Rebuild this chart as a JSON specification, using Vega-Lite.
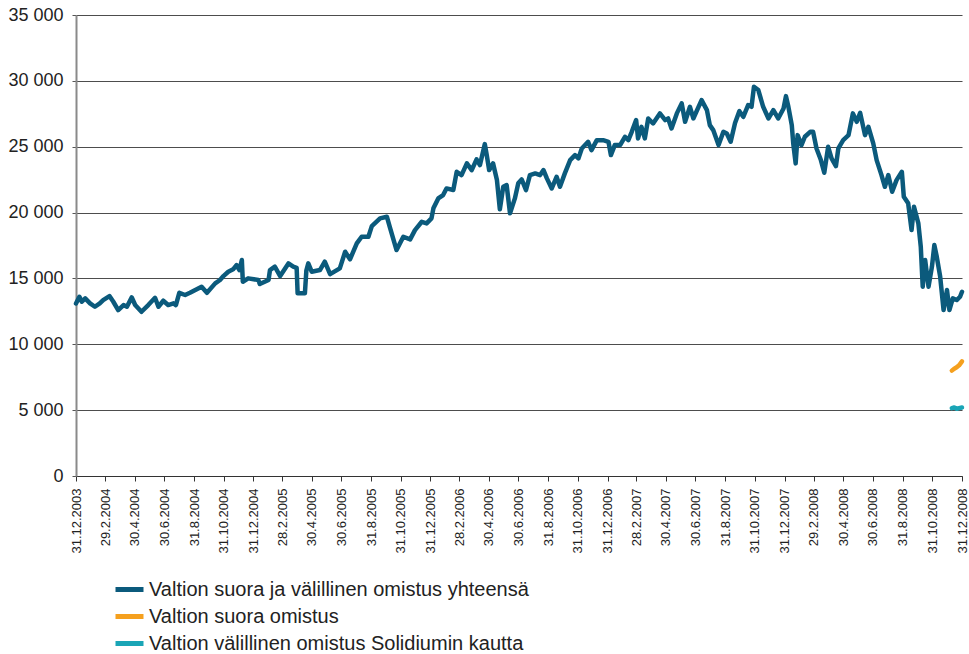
{
  "$schema": "https://vega.github.io/schema/vega-lite/v6.json",
  "width": 886,
  "height": 461,
  "autosize": {"type": "none"},
  "padding": {"left": 76, "top": 15, "right": 7, "bottom": 178},
  "background": "white",
  "config": {
    "view": {"stroke": null},
    "font": "Liberation Sans"
  },
  "encoding": {
    "x": {
      "field": "date",
      "type": "temporal",
      "scale": {"type": "utc", "domain": [{"year": 2003, "month": 12, "date": 31, "utc": true}, {"year": 2008, "month": 12, "date": 31, "utc": true}]},
      "axis": {
        "title": null,
        "format": "%-d.%-m.%Y",
        "labelAngle": -90,
        "labelFontSize": 13,
        "labelColor": "#222222",
        "labelPadding": 7,
        "tickSize": 5,
        "tickColor": "#333333",
        "domainColor": "#333333",
        "domainWidth": 1.2,
        "grid": false,
        "labelOverlap": false,
        "labelBound": false,
        "labelFlush": false,
        "values": [
          {"year": 2003, "month": 12, "date": 31, "utc": true},
          {"year": 2004, "month": 2, "date": 29, "utc": true},
          {"year": 2004, "month": 4, "date": 30, "utc": true},
          {"year": 2004, "month": 6, "date": 30, "utc": true},
          {"year": 2004, "month": 8, "date": 31, "utc": true},
          {"year": 2004, "month": 10, "date": 31, "utc": true},
          {"year": 2004, "month": 12, "date": 31, "utc": true},
          {"year": 2005, "month": 2, "date": 28, "utc": true},
          {"year": 2005, "month": 4, "date": 30, "utc": true},
          {"year": 2005, "month": 6, "date": 30, "utc": true},
          {"year": 2005, "month": 8, "date": 31, "utc": true},
          {"year": 2005, "month": 10, "date": 31, "utc": true},
          {"year": 2005, "month": 12, "date": 31, "utc": true},
          {"year": 2006, "month": 2, "date": 28, "utc": true},
          {"year": 2006, "month": 4, "date": 30, "utc": true},
          {"year": 2006, "month": 6, "date": 30, "utc": true},
          {"year": 2006, "month": 8, "date": 31, "utc": true},
          {"year": 2006, "month": 10, "date": 31, "utc": true},
          {"year": 2006, "month": 12, "date": 31, "utc": true},
          {"year": 2007, "month": 2, "date": 28, "utc": true},
          {"year": 2007, "month": 4, "date": 30, "utc": true},
          {"year": 2007, "month": 6, "date": 30, "utc": true},
          {"year": 2007, "month": 8, "date": 31, "utc": true},
          {"year": 2007, "month": 10, "date": 31, "utc": true},
          {"year": 2007, "month": 12, "date": 31, "utc": true},
          {"year": 2008, "month": 2, "date": 29, "utc": true},
          {"year": 2008, "month": 4, "date": 30, "utc": true},
          {"year": 2008, "month": 6, "date": 30, "utc": true},
          {"year": 2008, "month": 8, "date": 31, "utc": true},
          {"year": 2008, "month": 10, "date": 31, "utc": true},
          {"year": 2008, "month": 12, "date": 31, "utc": true}
        ]
      }
    },
    "y": {
      "field": "value",
      "type": "quantitative",
      "scale": {"domain": [0, 35000], "nice": false},
      "axis": {
        "title": null,
        "values": [0, 5000, 10000, 15000, 20000, 25000, 30000, 35000],
        "labelExpr": "replace(format(datum.value, ','), ',', ' ')",
        "labelFontSize": 18,
        "labelColor": "#222222",
        "labelPadding": 9,
        "tickSize": 4,
        "tickColor": "#555555",
        "domainColor": "#8a8a8a",
        "domainWidth": 2,
        "grid": true,
        "gridColor": "#4d4d4d",
        "gridWidth": 1.2
      }
    }
  },
  "layer": [
    {
      "data": {"values": [
        {"date": "2003-12-31", "value": 13100},
        {"date": "2004-01-07", "value": 13610},
        {"date": "2004-01-12", "value": 13230},
        {"date": "2004-01-19", "value": 13485},
        {"date": "2004-01-29", "value": 13108},
        {"date": "2004-02-08", "value": 12850},
        {"date": "2004-02-18", "value": 13108},
        {"date": "2004-02-25", "value": 13358},
        {"date": "2004-03-09", "value": 13662},
        {"date": "2004-03-17", "value": 13230},
        {"date": "2004-03-27", "value": 12600},
        {"date": "2004-04-07", "value": 12980},
        {"date": "2004-04-14", "value": 12850},
        {"date": "2004-04-24", "value": 13560},
        {"date": "2004-05-01", "value": 12980},
        {"date": "2004-05-14", "value": 12470},
        {"date": "2004-05-28", "value": 12980},
        {"date": "2004-06-11", "value": 13530},
        {"date": "2004-06-18", "value": 12850},
        {"date": "2004-06-28", "value": 13305},
        {"date": "2004-07-08", "value": 12980},
        {"date": "2004-07-19", "value": 13108},
        {"date": "2004-07-24", "value": 12980},
        {"date": "2004-07-31", "value": 13910},
        {"date": "2004-08-12", "value": 13740},
        {"date": "2004-08-22", "value": 13910},
        {"date": "2004-09-15", "value": 14370},
        {"date": "2004-09-26", "value": 13910},
        {"date": "2004-10-13", "value": 14625},
        {"date": "2004-10-23", "value": 14880},
        {"date": "2004-10-30", "value": 15180},
        {"date": "2004-11-09", "value": 15510},
        {"date": "2004-11-19", "value": 15690},
        {"date": "2004-11-26", "value": 16015},
        {"date": "2004-12-02", "value": 15635},
        {"date": "2004-12-07", "value": 16395},
        {"date": "2004-12-09", "value": 14750},
        {"date": "2004-12-20", "value": 15005},
        {"date": "2005-01-10", "value": 14880},
        {"date": "2005-01-13", "value": 14575},
        {"date": "2005-01-31", "value": 14880},
        {"date": "2005-02-03", "value": 15635},
        {"date": "2005-02-13", "value": 15890},
        {"date": "2005-02-24", "value": 15180},
        {"date": "2005-03-13", "value": 16140},
        {"date": "2005-03-23", "value": 15890},
        {"date": "2005-03-30", "value": 15800},
        {"date": "2005-04-01", "value": 13870},
        {"date": "2005-04-16", "value": 13870},
        {"date": "2005-04-19", "value": 15600},
        {"date": "2005-04-23", "value": 16140},
        {"date": "2005-04-30", "value": 15510},
        {"date": "2005-05-17", "value": 15635},
        {"date": "2005-05-27", "value": 16270},
        {"date": "2005-06-07", "value": 15330},
        {"date": "2005-06-27", "value": 15765},
        {"date": "2005-07-08", "value": 17025},
        {"date": "2005-07-18", "value": 16450},
        {"date": "2005-08-01", "value": 17660},
        {"date": "2005-08-11", "value": 18165},
        {"date": "2005-08-25", "value": 18165},
        {"date": "2005-09-01", "value": 18975},
        {"date": "2005-09-18", "value": 19560},
        {"date": "2005-10-02", "value": 19685},
        {"date": "2005-10-08", "value": 18920},
        {"date": "2005-10-22", "value": 17155},
        {"date": "2005-11-05", "value": 18165},
        {"date": "2005-11-19", "value": 17965},
        {"date": "2005-11-29", "value": 18670},
        {"date": "2005-12-13", "value": 19300},
        {"date": "2005-12-23", "value": 19180},
        {"date": "2006-01-02", "value": 19560},
        {"date": "2006-01-06", "value": 20320},
        {"date": "2006-01-16", "value": 21075},
        {"date": "2006-01-26", "value": 21330},
        {"date": "2006-02-02", "value": 21835},
        {"date": "2006-02-16", "value": 21710},
        {"date": "2006-02-23", "value": 23095},
        {"date": "2006-03-05", "value": 22845},
        {"date": "2006-03-16", "value": 23735},
        {"date": "2006-03-26", "value": 23225},
        {"date": "2006-04-05", "value": 24040},
        {"date": "2006-04-12", "value": 23605},
        {"date": "2006-04-22", "value": 25200},
        {"date": "2006-04-26", "value": 24365},
        {"date": "2006-05-01", "value": 23225},
        {"date": "2006-05-09", "value": 23735},
        {"date": "2006-05-17", "value": 22465},
        {"date": "2006-05-23", "value": 20245},
        {"date": "2006-05-30", "value": 21960},
        {"date": "2006-06-06", "value": 22085},
        {"date": "2006-06-13", "value": 19940},
        {"date": "2006-06-23", "value": 21075},
        {"date": "2006-06-30", "value": 22220},
        {"date": "2006-07-07", "value": 22520},
        {"date": "2006-07-16", "value": 21710},
        {"date": "2006-07-24", "value": 22845},
        {"date": "2006-08-04", "value": 22975},
        {"date": "2006-08-14", "value": 22845},
        {"date": "2006-08-21", "value": 23225},
        {"date": "2006-08-28", "value": 22595},
        {"date": "2006-09-07", "value": 21835},
        {"date": "2006-09-17", "value": 22715},
        {"date": "2006-09-24", "value": 21960},
        {"date": "2006-10-04", "value": 22975},
        {"date": "2006-10-15", "value": 23985},
        {"date": "2006-10-25", "value": 24365},
        {"date": "2006-11-01", "value": 24110},
        {"date": "2006-11-08", "value": 24870},
        {"date": "2006-11-21", "value": 25375},
        {"date": "2006-11-28", "value": 24745},
        {"date": "2006-12-09", "value": 25500},
        {"date": "2006-12-22", "value": 25500},
        {"date": "2007-01-02", "value": 25375},
        {"date": "2007-01-07", "value": 24365},
        {"date": "2007-01-15", "value": 25125},
        {"date": "2007-01-26", "value": 25125},
        {"date": "2007-02-05", "value": 25755},
        {"date": "2007-02-12", "value": 25500},
        {"date": "2007-02-19", "value": 26130},
        {"date": "2007-02-28", "value": 27020},
        {"date": "2007-03-04", "value": 25630},
        {"date": "2007-03-11", "value": 26510},
        {"date": "2007-03-18", "value": 25630},
        {"date": "2007-03-25", "value": 27145},
        {"date": "2007-04-04", "value": 26765},
        {"date": "2007-04-18", "value": 27530},
        {"date": "2007-04-29", "value": 27020},
        {"date": "2007-05-05", "value": 27145},
        {"date": "2007-05-12", "value": 26385},
        {"date": "2007-05-23", "value": 27530},
        {"date": "2007-06-02", "value": 28290},
        {"date": "2007-06-09", "value": 26890},
        {"date": "2007-06-19", "value": 28030},
        {"date": "2007-06-26", "value": 27145},
        {"date": "2007-07-13", "value": 28540},
        {"date": "2007-07-24", "value": 27780},
        {"date": "2007-07-30", "value": 26640},
        {"date": "2007-08-06", "value": 26260},
        {"date": "2007-08-17", "value": 25125},
        {"date": "2007-08-27", "value": 26130},
        {"date": "2007-09-03", "value": 26005},
        {"date": "2007-09-11", "value": 25375},
        {"date": "2007-09-20", "value": 26800},
        {"date": "2007-09-29", "value": 27700},
        {"date": "2007-10-07", "value": 27270},
        {"date": "2007-10-17", "value": 28160},
        {"date": "2007-10-24", "value": 28030},
        {"date": "2007-10-29", "value": 29550},
        {"date": "2007-11-07", "value": 29300},
        {"date": "2007-11-17", "value": 28030},
        {"date": "2007-11-28", "value": 27145},
        {"date": "2007-12-08", "value": 27780},
        {"date": "2007-12-18", "value": 27145},
        {"date": "2007-12-29", "value": 27905},
        {"date": "2008-01-03", "value": 28840},
        {"date": "2008-01-08", "value": 28030},
        {"date": "2008-01-15", "value": 26640},
        {"date": "2008-01-18", "value": 25250},
        {"date": "2008-01-23", "value": 23735},
        {"date": "2008-01-27", "value": 25880},
        {"date": "2008-02-04", "value": 25125},
        {"date": "2008-02-11", "value": 25755},
        {"date": "2008-02-22", "value": 26130},
        {"date": "2008-02-28", "value": 26130},
        {"date": "2008-03-06", "value": 24870},
        {"date": "2008-03-15", "value": 23985},
        {"date": "2008-03-22", "value": 23025},
        {"date": "2008-03-30", "value": 24995},
        {"date": "2008-04-06", "value": 24110},
        {"date": "2008-04-15", "value": 23530},
        {"date": "2008-04-20", "value": 24870},
        {"date": "2008-04-30", "value": 25500},
        {"date": "2008-05-11", "value": 25880},
        {"date": "2008-05-20", "value": 27530},
        {"date": "2008-05-28", "value": 26890},
        {"date": "2008-06-04", "value": 27570},
        {"date": "2008-06-14", "value": 25880},
        {"date": "2008-06-21", "value": 26510},
        {"date": "2008-07-01", "value": 25250},
        {"date": "2008-07-08", "value": 23985},
        {"date": "2008-07-18", "value": 22845},
        {"date": "2008-07-25", "value": 21960},
        {"date": "2008-08-01", "value": 22845},
        {"date": "2008-08-09", "value": 21580},
        {"date": "2008-08-18", "value": 22465},
        {"date": "2008-08-29", "value": 23095},
        {"date": "2008-09-02", "value": 21200},
        {"date": "2008-09-11", "value": 20700},
        {"date": "2008-09-18", "value": 18670},
        {"date": "2008-09-23", "value": 20440},
        {"date": "2008-10-02", "value": 19180},
        {"date": "2008-10-07", "value": 17405},
        {"date": "2008-10-11", "value": 14370},
        {"date": "2008-10-16", "value": 16395},
        {"date": "2008-10-23", "value": 14370},
        {"date": "2008-10-30", "value": 15890},
        {"date": "2008-11-04", "value": 17530},
        {"date": "2008-11-09", "value": 16645},
        {"date": "2008-11-16", "value": 15130},
        {"date": "2008-11-23", "value": 12600},
        {"date": "2008-11-30", "value": 14120},
        {"date": "2008-12-05", "value": 12600},
        {"date": "2008-12-12", "value": 13485},
        {"date": "2008-12-20", "value": 13358},
        {"date": "2008-12-27", "value": 13610},
        {"date": "2008-12-31", "value": 13990}
      ]},
      "mark": {"type": "line", "strokeWidth": 4.5, "strokeJoin": "round", "strokeCap": "round"},
      "encoding": {
        "color": {
          "datum": "Valtion suora ja välillinen omistus yhteensä",
          "type": "nominal",
          "scale": {
            "domain": ["Valtion suora ja välillinen omistus yhteensä", "Valtion suora omistus", "Valtion välillinen omistus Solidiumin kautta"],
            "range": ["#0b5a7c", "#f5a01e", "#1aa5b6"]
          },
          "legend": {
            "title": null,
            "orient": "none",
            "legendX": 37,
            "legendY": 558,
            "direction": "vertical",
            "symbolType": "stroke",
            "symbolSize": 784,
            "symbolStrokeWidth": 5,
            "labelFontSize": 20,
            "labelColor": "#222222",
            "labelOffset": 3,
            "rowPadding": -4.5,
            "labelLimit": 800
          }
        }
      }
    },
    {
      "data": {"values": [
        {"date": "2008-12-10", "value": 8000},
        {"date": "2008-12-15", "value": 8150},
        {"date": "2008-12-20", "value": 8250},
        {"date": "2008-12-25", "value": 8400},
        {"date": "2008-12-31", "value": 8700}
      ]},
      "mark": {"type": "line", "strokeWidth": 4.5, "strokeJoin": "round", "strokeCap": "round"},
      "encoding": {
        "color": {"datum": "Valtion suora omistus", "type": "nominal"}
      }
    },
    {
      "data": {"values": [
        {"date": "2008-12-10", "value": 5150},
        {"date": "2008-12-15", "value": 5200},
        {"date": "2008-12-20", "value": 5100},
        {"date": "2008-12-25", "value": 5150},
        {"date": "2008-12-31", "value": 5200}
      ]},
      "mark": {"type": "line", "strokeWidth": 4.5, "strokeJoin": "round", "strokeCap": "round"},
      "encoding": {
        "color": {"datum": "Valtion välillinen omistus Solidiumin kautta", "type": "nominal"}
      }
    }
  ]
}
